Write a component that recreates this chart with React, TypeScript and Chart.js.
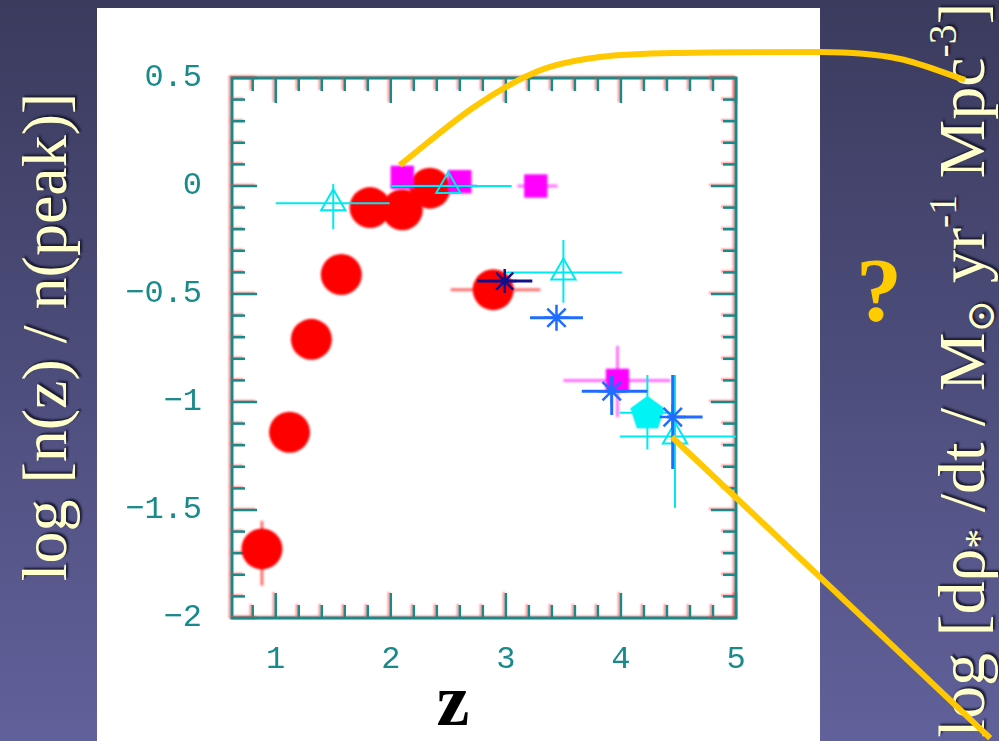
import React, { useEffect, useRef } from "react";
import { Chart, registerables } from "chart.js";

Chart.register(...registerables);

// ---- axes ----
const xMin = 0.62;
const xMax = 5;
const yMin = -2;
const yMax = 0.5;
const xTicks = [1, 2, 3, 4, 5];
const yTicks = [0.5, 0, -0.5, -1, -1.5, -2];
const xMinorStep = 0.2;
const yMinorStep = 0.1;

// ---- red filled circles ----
const redZ = [0.88, 1.12, 1.31, 1.57, 1.82, 2.1, 2.34, 2.89];
const redLog = [-1.68, -1.14, -0.71, -0.41, -0.1, -0.11, -0.01, -0.48];
const redXLo = [null, null, null, null, null, null, null, 2.52];
const redXHi = [null, null, null, null, null, null, null, 3.3];
const redYLo = [-1.85, null, null, null, null, null, null, null];
const redYHi = [-1.55, null, null, null, null, null, null, null];

// ---- magenta filled squares ----
const magZ = [2.1, 2.6, 3.26, 3.97];
const magLog = [0.04, 0.02, 0.0, -0.9];
const magXLo = [null, null, 3.1, 3.5];
const magXHi = [null, null, 3.45, 4.43];
const magYLo = [null, null, null, -1.07];
const magYHi = [null, null, null, -0.74];

// ---- cyan open triangles ----
const triZ = [1.5, 2.5, 3.5, 4.47];
const triLog = [-0.08, 0.0, -0.4, -1.16];
const triXLo = [1.0, 2.0, 2.99, 3.99];
const triXHi = [1.99, 3.05, 4.01, 5.0];
const triYLo = [-0.2, null, -0.54, -1.49];
const triYHi = [0.01, null, -0.25, -0.875];

// ---- navy asterisk ----
const navyZ = [2.99];
const navyLog = [-0.44];
const navyXLo = [2.75];
const navyXHi = [3.23];

// ---- blue asterisks ----
const blueZ = [3.44, 3.92, 4.45];
const blueLog = [-0.61, -0.95, -1.07];
const blueXLo = [3.21, 3.66, 4.4];
const blueXHi = [3.67, 4.23, 4.71];
const blueYLo = [null, -1.06, -1.31];
const blueYHi = [null, -0.88, -0.875];

// ---- blue bar at zero ----
const blueBarZ = [2.38];
const blueBarLog = [0.0];
const blueBarXLo = [2.0];
const blueBarXHi = [2.75];

// ---- cyan pentagon ----
const pentZ = [4.23];
const pentLog = [-1.05];
const pentXLo = [3.99];
const pentXHi = [4.45];
const pentYLo = [-1.22];
const pentYHi = [-0.875];

// ---- yellow overlay curves (listed right to left) ----
const curveZ = [6.991, 6.426, 5.73, 4.513, 3.817, 3.383, 3.078, 2.687, 2.078];
const curveLog = [0.491, 0.588, 0.62, 0.616, 0.597, 0.551, 0.481, 0.352, 0.097];
const lineZ = [7.209, 4.443];
const lineLog = [-2.556, -1.162];

const TEAL = "#188a8a";
const YELLOW = "#ffc800";

const pts = (xs: number[], ys: number[]) => xs.map((x, i) => ({ x, y: ys[i] }));

const errorBarPlugin = {
  id: "errorBars",
  beforeDatasetDraw(chart: any, args: any) {
    const ds = chart.data.datasets[args.index];
    const { ctx, scales } = chart;
    if (ds.blur) ctx.filter = `blur(${ds.blur}px)`;
    if (!ds.err) return;
    const xs = scales.x;
    const ys = scales.y;
    ctx.save();
    ctx.strokeStyle = ds.errColor;
    ctx.lineWidth = ds.errWidth || 2;
    ds.data.forEach((p: any, i: number) => {
      const px = xs.getPixelForValue(p.x);
      const py = ys.getPixelForValue(p.y);
      const e = ds.err;
      if (e.xLo && e.xLo[i] != null) {
        ctx.beginPath();
        ctx.moveTo(xs.getPixelForValue(e.xLo[i]), py);
        ctx.lineTo(xs.getPixelForValue(e.xHi[i]), py);
        ctx.stroke();
      }
      if (e.yLo && e.yLo[i] != null) {
        ctx.beginPath();
        ctx.moveTo(px, ys.getPixelForValue(e.yLo[i]));
        ctx.lineTo(px, ys.getPixelForValue(e.yHi[i]));
        ctx.stroke();
      }
    });
    ctx.restore();
  },
  afterDatasetDraw(chart: any) {
    chart.ctx.filter = "none";
  },
};

const framePlugin = {
  id: "frame",
  beforeDatasetsDraw(chart: any) {
    const { ctx, chartArea, scales } = chart;
    const { left, right, top, bottom } = chartArea;
    const xs = scales.x;
    const ys = scales.y;
    ctx.save();
    ctx.shadowColor = "rgba(255,70,70,0.55)";
    ctx.shadowOffsetX = -2;
    ctx.shadowOffsetY = -1;
    ctx.shadowBlur = 2;
    ctx.strokeStyle = TEAL;
    ctx.lineWidth = 3;
    ctx.strokeRect(left, top, right - left, bottom - top);
    ctx.lineWidth = 2.5;
    const line = (a: number, b: number, c: number, d: number) => {
      ctx.beginPath();
      ctx.moveTo(a, b);
      ctx.lineTo(c, d);
      ctx.stroke();
    };
    for (let i = Math.ceil(xMin / xMinorStep); i * xMinorStep <= xMax + 1e-9; i++) {
      const v = i * xMinorStep;
      const major = Math.abs(v - Math.round(v)) < 1e-6;
      const len = major ? 25 : 13;
      const px = xs.getPixelForValue(v);
      line(px, bottom, px, bottom - len);
      line(px, top, px, top + len);
    }
    for (let i = Math.ceil(yMin / yMinorStep); i * yMinorStep <= yMax + 1e-9; i++) {
      const v = i * yMinorStep;
      const major = Math.abs(v * 2 - Math.round(v * 2)) < 1e-6;
      const len = major ? 25 : 13;
      const py = ys.getPixelForValue(v);
      line(left, py, left + len, py);
      line(right, py, right - len, py);
    }
    ctx.restore();
  },
};

function makePentagon(): HTMLCanvasElement {
  const c = document.createElement("canvas");
  c.width = 40;
  c.height = 40;
  const g = c.getContext("2d")!;
  g.fillStyle = "#00f4f4";
  g.beginPath();
  for (let k = 0; k < 5; k++) {
    const a = -Math.PI / 2 + (k * 2 * Math.PI) / 5;
    const x = 20 + 18 * Math.cos(a);
    const y = 21 + 18 * Math.sin(a);
    if (k === 0) g.moveTo(x, y);
    else g.lineTo(x, y);
  }
  g.closePath();
  g.fill();
  return c;
}

function ChartCanvas() {
  const ref = useRef<HTMLCanvasElement>(null);
  useEffect(() => {
    if (!ref.current) return;
    const pent = makePentagon();
    const chart = new Chart(ref.current, {
      type: "scatter",
      data: {
        datasets: [
          {
            label: "curve",
            data: pts(curveZ, curveLog),
            showLine: true,
            borderColor: YELLOW,
            borderWidth: 6,
            pointRadius: 0,
            cubicInterpolationMode: "monotone",
            clip: false,
          } as any,
          {
            label: "line",
            data: pts(lineZ, lineLog),
            showLine: true,
            borderColor: YELLOW,
            borderWidth: 6,
            pointRadius: 0,
            clip: false,
          } as any,
          {
            label: "blue",
            data: pts(blueZ, blueLog),
            pointStyle: "star",
            pointRadius: 13,
            borderColor: "#1f6cff",
            backgroundColor: "#1f6cff",
            pointBorderWidth: 2.5,
            err: { xLo: blueXLo, xHi: blueXHi, yLo: blueYLo, yHi: blueYHi },
            errColor: "#1f6cff",
            errWidth: 3,
            blur: 0.5,
            clip: false,
          } as any,
          {
            label: "navy",
            data: pts(navyZ, navyLog),
            pointStyle: "star",
            pointRadius: 12,
            borderColor: "#10108a",
            backgroundColor: "#10108a",
            pointBorderWidth: 2.5,
            err: { xLo: navyXLo, xHi: navyXHi },
            errColor: "#10108a",
            errWidth: 3,
            blur: 0.5,
          } as any,
          {
            label: "triangles",
            data: pts(triZ, triLog),
            pointStyle: "triangle",
            pointRadius: 14,
            borderColor: "#00e8f0",
            backgroundColor: "rgba(0,0,0,0)",
            pointBorderWidth: 2,
            err: { xLo: triXLo, xHi: triXHi, yLo: triYLo, yHi: triYHi },
            errColor: "#00e8f0",
            errWidth: 2,
            blur: 0.4,
            clip: false,
          } as any,
          {
            label: "bluebar",
            data: pts(blueBarZ, blueBarLog),
            pointRadius: 0,
            err: { xLo: blueBarXLo, xHi: blueBarXHi },
            errColor: "#1f6cff",
            errWidth: 2.5,
          } as any,
          {
            label: "pentagon",
            data: pts(pentZ, pentLog),
            pointStyle: pent,
            pointRadius: 18,
            err: { xLo: pentXLo, xHi: pentXHi, yLo: pentYLo, yHi: pentYHi },
            errColor: "#00e8f0",
            errWidth: 2,
            blur: 0.6,
          } as any,
          {
            label: "magenta",
            data: pts(magZ, magLog),
            pointStyle: "rect",
            pointRadius: 16.5,
            borderColor: "#ff00ff",
            backgroundColor: "#ff00ff",
            pointBorderWidth: 0,
            err: { xLo: magXLo, xHi: magXHi, yLo: magYLo, yHi: magYHi },
            errColor: "#ff70ff",
            errWidth: 3,
            blur: 1.2,
          } as any,
          {
            label: "red",
            data: pts(redZ, redLog),
            pointStyle: "circle",
            pointRadius: 20.5,
            borderColor: "#ff0000",
            backgroundColor: "#ff0000",
            pointBorderWidth: 0,
            err: { xLo: redXLo, xHi: redXHi, yLo: redYLo, yHi: redYHi },
            errColor: "#ff7070",
            errWidth: 3,
            blur: 1.2,
          } as any,
        ],
      },
      options: {
        responsive: false,
        animation: false,
        events: [],
        layout: { padding: { left: 100, top: 78, right: 263, bottom: 0 } },
        plugins: { legend: { display: false }, tooltip: { enabled: false } },
        scales: {
          x: {
            type: "linear",
            min: xMin,
            max: xMax,
            grid: { display: false },
            border: { display: false },
            afterBuildTicks: (s: any) => {
              s.ticks = xTicks.map((v) => ({ value: v }));
            },
            afterFit: (s: any) => {
              s.height = 123;
            },
            ticks: {
              color: TEAL,
              font: { family: "Liberation Mono", size: 32 },
              padding: 14,
              maxRotation: 0,
              callback: (v: any) => String(v),
            },
          },
          y: {
            type: "linear",
            min: yMin,
            max: yMax,
            grid: { display: false },
            border: { display: false },
            afterBuildTicks: (s: any) => {
              s.ticks = yTicks.map((v) => ({ value: v }));
            },
            afterFit: (s: any) => {
              s.width = 132;
            },
            ticks: {
              color: TEAL,
              font: { family: "Liberation Mono", size: 32 },
              padding: 22,
              callback: (v: any) => (v < 0 ? "\u2212" + String(-v) : String(v)),
            },
          },
        },
      } as any,
      plugins: [framePlugin, errorBarPlugin],
    });
    return () => chart.destroy();
  }, []);
  return (
    <canvas
      ref={ref}
      width={999}
      height={741}
      style={{ position: "absolute", left: 0, top: 0, width: 999, height: 741 }}
    />
  );
}

export default function App() {
  const cream = "#ffffcc";
  const shadow = "2px 2px 2px rgba(20,20,40,0.9)";
  return (
    <div
      style={{
        position: "fixed",
        left: 0,
        top: 0,
        width: 999,
        height: 741,
        overflow: "hidden",
        background: "linear-gradient(180deg, #3b3b5e 0%, #4d4d7c 50%, #61619b 100%)",
      }}
    >
      <div style={{ position: "absolute", left: 97, top: 8, width: 723, height: 733, background: "#ffffff" }} />
      <div
        style={{
          position: "absolute",
          left: 45,
          top: 337,
          transform: "translate(-50%, -50%) rotate(-90deg)",
          whiteSpace: "nowrap",
          fontFamily: '"Liberation Serif", "DejaVu Serif", serif',
          fontSize: 64,
          lineHeight: 1,
          color: cream,
          textShadow: shadow,
        }}
      >
        log [n(z) / n(peak)]
      </div>
      <div
        style={{
          position: "absolute",
          left: 963,
          top: 370,
          transform: "translate(-50%, -50%) rotate(-90deg)",
          whiteSpace: "nowrap",
          fontFamily: '"Liberation Serif", "DejaVu Serif", serif',
          fontSize: 66,
          lineHeight: 1,
          color: cream,
          textShadow: shadow,
        }}
      >
        log [dρ<span style={{ fontSize: "0.6em", verticalAlign: "-0.2em" }}>*</span> /dt / M
        <span style={{ fontSize: "0.6em", verticalAlign: "-0.25em" }}>⊙</span> yr
        <span style={{ fontSize: "0.6em", verticalAlign: "0.7em" }}>-1</span> Mpc
        <span style={{ fontSize: "0.6em", verticalAlign: "0.7em" }}>-3</span>]
      </div>
      <div
        style={{
          position: "absolute",
          left: 879,
          top: 290,
          transform: "translate(-50%, -50%)",
          fontFamily: '"Liberation Serif", serif',
          fontWeight: "bold",
          fontSize: 92,
          lineHeight: 1,
          color: "#ffcc00",
        }}
      >
        ?
      </div>
      <div
        style={{
          position: "absolute",
          left: 453,
          top: 700,
          transform: "translate(-50%, -50%)",
          fontFamily: '"Liberation Serif", serif',
          fontWeight: "bold",
          fontSize: 74,
          lineHeight: 1,
          color: "#000000",
        }}
      >
        z
      </div>
      <ChartCanvas />
    </div>
  );
}
